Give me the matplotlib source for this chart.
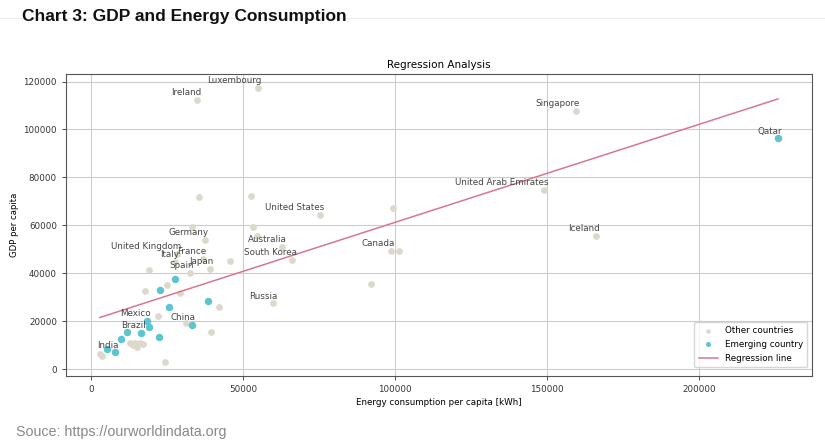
import numpy as np
import matplotlib
matplotlib.use("Agg")
import matplotlib.pyplot as plt
from matplotlib.lines import Line2D

# -------------------------------
# Data
# -------------------------------
# labelled "other" countries: energy per capita [kWh], GDP per capita
other_names = ["Luxembourg", "Ireland", "Singapore", "United Arab Emirates",
               "United States", "Iceland", "Canada", "Germany", "Australia",
               "South Korea", "Japan", "Spain", "United Kingdom", "France",
               "Italy", "Russia"]
other_energy = [54800, 34970, 159400, 149000, 75330, 166000, 98580, 37390,
                62940, 66230, 39030, 32570, 28300, 36700, 27600, 59900]
other_gdp = [117450, 112200, 107800, 74890, 64550, 55600, 49230, 53900,
             51060, 45660, 41830, 40280, 48000, 46000, 44900, 27500]

# unlabelled "other" countries
rest_energy = [52530, 35530, 53290, 54600, 45600, 99340, 101100, 92200,
               42100, 39370, 31150, 29300, 25100, 19080, 17660, 22040,
               24340, 2960, 3720, 13000, 14500, 16000, 17200, 15300, 14000,
               33300]
rest_gdp = [72200, 72040, 59270, 55450, 45200, 67230, 49230, 35450,
            25960, 15600, 19500, 31900, 35000, 41300, 32550, 22420,
            2980, 6380, 5660, 10800, 11000, 11000, 10600, 9300, 10000,
            59400]

# emerging countries (labelled ones first)
emerg_names = ["Qatar", "Mexico", "Brazil", "China", "India"]
emerg_energy = [225770, 18310, 16560, 33110, 7800,
                27600, 22650, 25600, 38490, 19080, 11840, 9760, 22370, 5150]
emerg_gdp = [96300, 20290, 15190, 18430, 7090,
             37800, 33250, 25960, 28370, 17740, 15600, 12770, 13490, 8510]

# regression line
reg_slope = 0.409
reg_intercept = 20400

# -------------------------------
# Figure
# -------------------------------
fig = plt.figure(figsize=(8.25, 4.48), dpi=100)
ax = fig.add_axes([0.080, 0.161, 0.904, 0.674])

grey = "#dcd9cc"
cyan = "#5ec4d1"
pink = "#d9768f"

ax.scatter(other_energy + rest_energy, other_gdp + rest_gdp, s=15,
           color=grey, label="Other countries", zorder=3)
ax.scatter(emerg_energy, emerg_gdp, s=19, color=cyan,
           label="Emerging country", zorder=3)

all_x = np.array(other_energy + rest_energy + emerg_energy)
xs = np.array([all_x.min(), all_x.max()])
ax.plot(xs, reg_slope * xs + reg_intercept, color=pink, lw=1.1,
        label="Regression line", zorder=4)

for name, x, y in zip(other_names, other_energy, other_gdp):
    ax.annotate(name, (x, y), xytext=(3, 2), textcoords="offset points",
                ha="right", va="bottom", fontsize=6.3, color="#444444",
                zorder=5)
for name, x, y in zip(emerg_names, emerg_energy, emerg_gdp):
    ax.annotate(name, (x, y), xytext=(3, 2), textcoords="offset points",
                ha="right", va="bottom", fontsize=6.3, color="#444444",
                zorder=5)

ax.grid(True, color="#cccccc", lw=0.8)
ax.set_axisbelow(True)
ax.set_yticks(np.arange(0, 120001, 20000))
ax.set_xticks([0, 50000, 100000, 150000, 200000])
ax.tick_params(labelsize=6.3, length=3, width=0.6, colors="#333333")
for sp in ax.spines.values():
    sp.set_color("#555555")
    sp.set_linewidth(0.8)

ax.set_xlabel("Energy consumption per capita [kWh]", fontsize=6.3,
              labelpad=3)
ax.set_ylabel("GDP per capita", fontsize=6.1, labelpad=3)
ax.set_title("Regression Analysis", fontsize=7.5, pad=4)

ax.legend(loc="lower right", bbox_to_anchor=(1, 0.015), fontsize=6.3,
          markerscale=0.6, borderpad=0.5, labelspacing=0.55,
          handlelength=2.2)

# page title, separator and source note
fig.add_artist(Line2D([0, 1], [1 - 18 / 448] * 2, color="#ececec",
                      lw=0.8, transform=fig.transFigure, zorder=0))
fig.text(22 / 825, 1 - 17 / 448, "Chart 3: GDP and Energy Consumption",
         fontsize=12.5, fontweight="bold", family="Liberation Sans",
         va="center", ha="left", color="#111111")
fig.text(16 / 825, 1 - 432 / 448, "Souce: https://ourworldindata.org",
         fontsize=10.3, family="Liberation Sans", va="center", ha="left",
         color="#888888")

fig.savefig("out.png", dpi=100, facecolor="white")
